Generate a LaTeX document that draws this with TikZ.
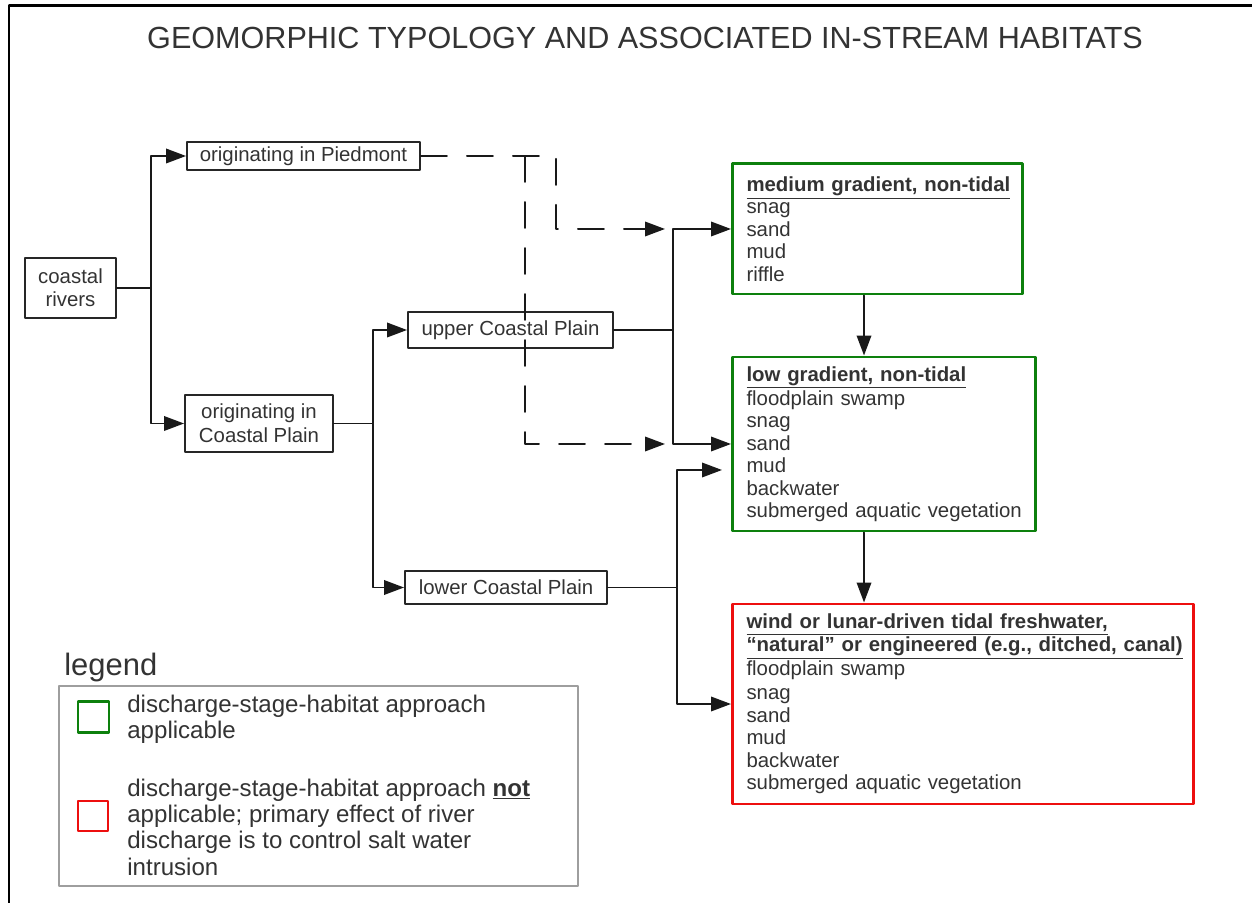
\documentclass[tikz,border=0pt]{standalone}
\usepackage{fontspec}
\setmainfont{Liberation Sans}
\usetikzlibrary{arrows.meta}
\definecolor{habgreen}{rgb}{0.05,0.5,0.05}
\definecolor{habred}{rgb}{0.93,0.06,0.06}
\definecolor{txtgray}{rgb}{0.2,0.2,0.2}
\definecolor{lgdgray}{rgb}{0.62,0.62,0.62}
\newcommand{\habfont}{\fontsize{11.6}{12.76}\selectfont\hyphenpenalty=10000\relax\hbadness=10000\relax\hfuzz=30pt\relax}
\tikzset{
  typebox/.style={draw=black!85,line width=1.1pt,inner sep=0pt,align=center,text=txtgray,font=\fontsize{11.6}{13}\selectfont},
  habbox/.style={line width=1.7pt,anchor=west,align=left,inner xsep=0.28cm,inner ysep=0pt,text=txtgray,font=\habfont},
  conn/.style={line width=1.1pt,black!90},
  dashl/.style={line width=1.1pt,black!90,dash pattern=on 0.52cm off 0.4cm},
  lgdtext/.style={anchor=west,align=left,inner sep=0pt,text=txtgray,font=\fontsize{13.7}{15}\selectfont}
}

\begin{document}
\begin{tikzpicture}[line cap=round,line join=round,>={Triangle[length=4mm,width=2.9mm]},x=1.0cm,y=1.0cm]
\useasboundingbox (0.,0.) rectangle (25.04,18.04);
\draw [line width=1.7pt] (0.18,-1.) |- (26.,17.92);
\node [text=txtgray,font=\fontsize{17.4}{20}\selectfont] (title) at (12.9,17.28) {GEOMORPHIC TYPOLOGY AND ASSOCIATED IN-STREAM HABITATS};
% origin and position of river
\node [typebox,minimum width=1.82cm,minimum height=1.2cm] (rivers) at (1.41,12.28) {coastal\\rivers};
\node [typebox,minimum width=4.66cm,minimum height=0.56cm] (pied) at (6.07,14.92) {originating in Piedmont};
\node [typebox,minimum width=2.96cm,minimum height=1.14cm,font=\fontsize{11.6}{13.6}\selectfont] (cpl) at (5.18,9.57) {originating in\\Coastal Plain};
\node [typebox,minimum width=4.1cm,minimum height=0.72cm] (upper) at (10.21,11.44) {upper Coastal Plain};
\node [typebox,minimum width=4.04cm,minimum height=0.66cm] (lower) at (10.12,6.29) {lower Coastal Plain};
% habitat boxes
\node [habbox,draw=habgreen,minimum height=2.6cm,text width=5.24cm] (medium) at (14.62,13.46) {\underline{\textbf{medium gradient, non-tidal}}\\snag\\sand\\mud\\riffle};
\node [habbox,draw=habgreen,minimum height=3.48cm,text width=5.5cm] (low) at (14.62,9.16) {\underline{\textbf{low gradient, non-tidal}}\\floodplain swamp\\snag\\sand\\mud\\backwater\\submerged~aquatic~vegetation};
\node [habbox,draw=habred,minimum height=4.cm,text width=8.66cm] (red) at (14.62,3.96) {\underline{\textbf{wind or lunar-driven tidal freshwater,}}\\\underline{\textbf{“natural” or engineered (e.g., ditched, canal)}}\\floodplain swamp\\[1pt]snag\\sand\\mud\\backwater\\submerged aquatic vegetation};
% connectors
\draw [conn,->] (rivers.east) -- ++(0.68,0.) |- (pied.west);
\draw [conn,->] (rivers.east) -- ++(0.68,0.) |- (cpl.west);
\draw [conn,->] (cpl.east) -- ++(0.78,0.) |- (upper.west);
\draw [conn,->] (cpl.east) -- ++(0.78,0.) |- (lower.west);
\draw [conn,->] (upper.east) -- ++(1.18,0.) |- (medium.west);
\draw [conn,->] (upper.east) -- ++(1.18,0.) |- (low.west);
\draw [conn,->] (lower.east) -- ++(1.38,0.) |- ([shift={(-0.18,-0.52)}]low.west);
\draw [conn,->] (lower.east) -- ++(1.38,0.) |- (red.west);
\coordinate (dsplit) at (10.5,14.92);
\draw [dashl,->] (pied.east) -| (11.12,13.46) -- ([xshift=-1.32cm]medium.west);
\draw [dashl,->] (dsplit) |- ([xshift=-1.32cm]low.west);
\coordinate (vx) at (17.28,0.);
\draw [conn,->] (medium.south -| vx) -- (low.north -| vx);
\draw [conn,->] (low.south -| vx) -- (red.north -| vx);
% legend
\node [anchor=west,inner sep=0pt,text=txtgray,font=\fontsize{17.6}{20}\selectfont] (lgdtitle) at (1.28,4.68) {legend};
\draw [lgdgray,line width=0.8pt] (1.18,0.32) rectangle (11.56,4.32);
\node [draw=habgreen,line width=1.7pt,minimum size=0.62cm,inner sep=0pt] (lgdgreen) at (1.87,3.7) {};
\node [draw=habred,line width=1.7pt,minimum size=0.6cm,inner sep=0pt] (lgdred) at (1.86,1.72) {};
\node [lgdtext] (lgdtxt1) at (2.54,3.66) {discharge-stage-habitat approach\\applicable};
\node [lgdtext] (lgdtxt2) at (2.54,1.5) {discharge-stage-habitat approach \underline{\textbf{not}}\\applicable; primary effect of river\\discharge is to control salt water\\intrusion};
\end{tikzpicture}
\end{document}
